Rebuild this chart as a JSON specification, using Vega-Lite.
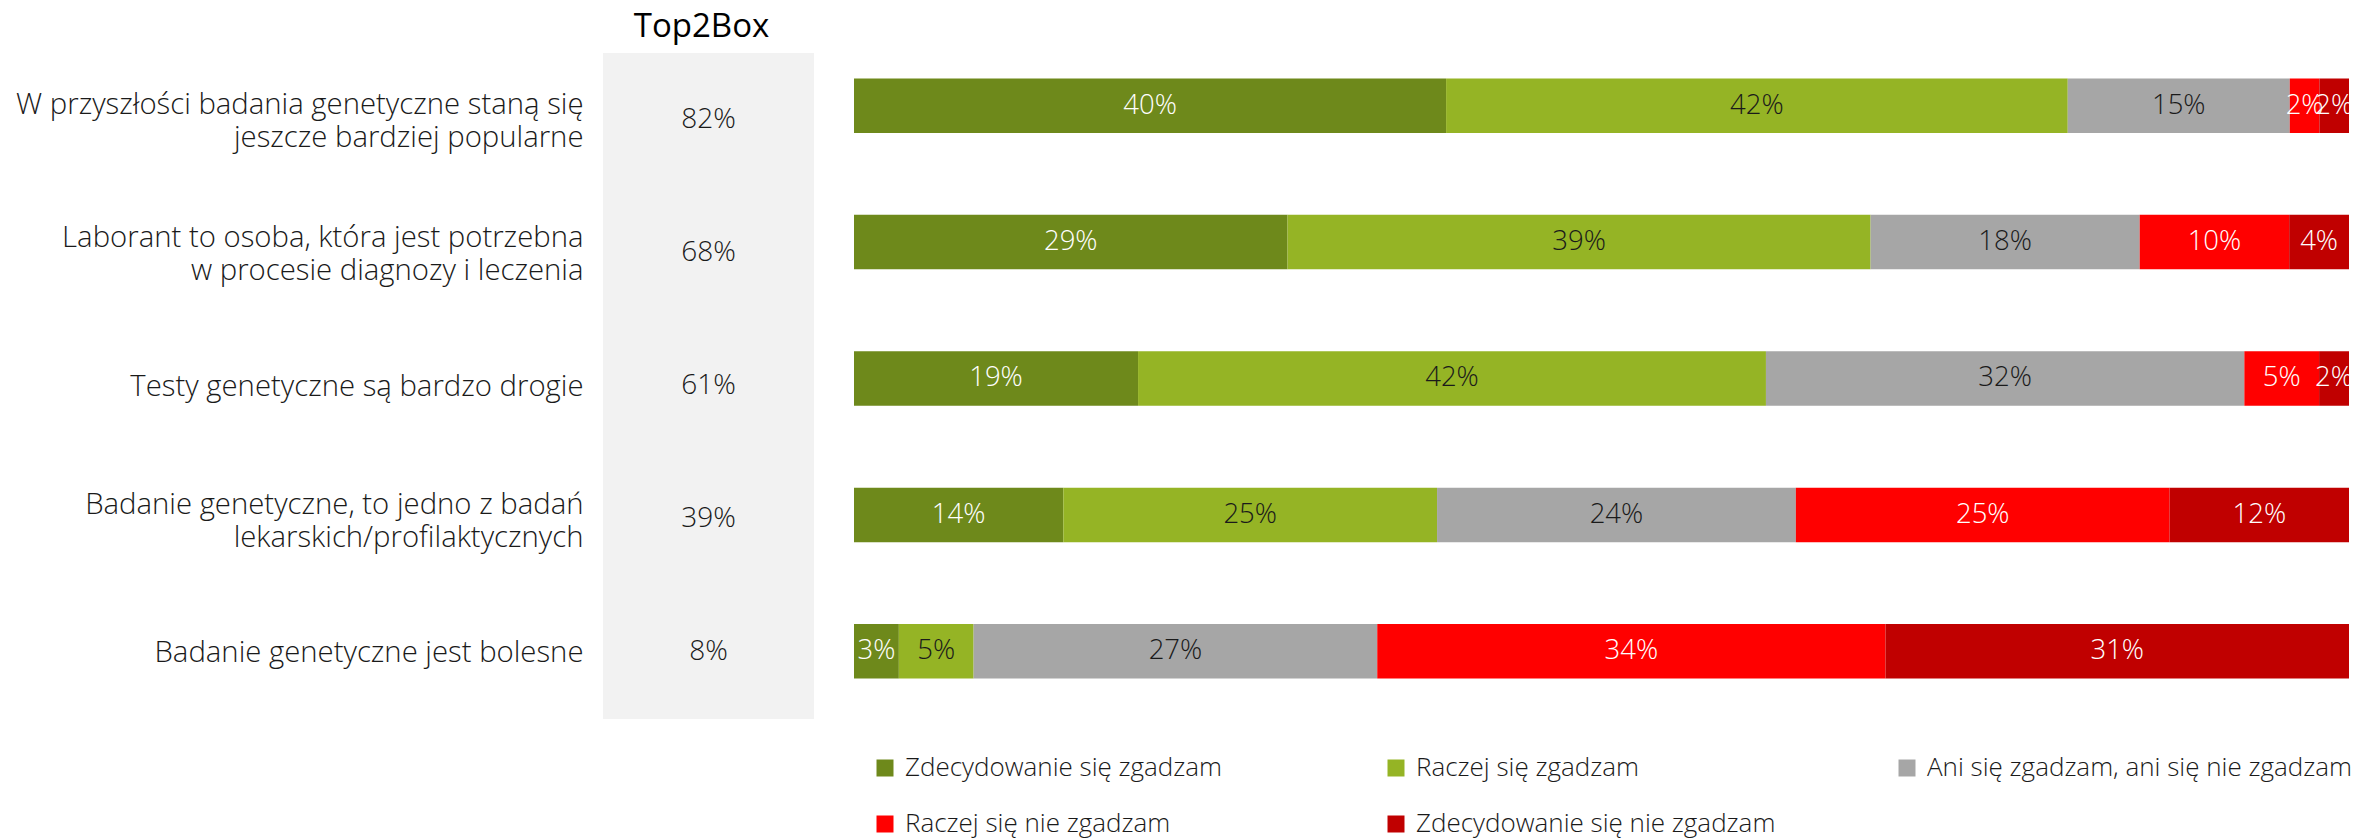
{
  "$schema": "https://vega.github.io/schema/vega-lite/v6.json",
  "autosize": "none",
  "padding": {"left": 603, "top": 53, "right": 1768, "bottom": 785},
  "config": {
    "view": {"stroke": null},
    "font": "Open Sans",
    "text": {"font": "Open Sans"}
  },
  "datasets": {
    "t2b": [
      {"s": "W przyszłości badania genetyczne staną się\njeszcze bardziej popularne", "t": 0.82},
      {"s": "Laborant to osoba, która jest potrzebna\nw procesie diagnozy i leczenia", "t": 0.68},
      {"s": "Testy genetyczne są bardzo drogie", "t": 0.61},
      {"s": "Badanie genetyczne, to jedno z badań\nlekarskich/profilaktycznych", "t": 0.39},
      {"s": "Badanie genetyczne jest bolesne", "t": 0.08}
    ],
    "resp": [
      {"s": "W przyszłości badania genetyczne staną się\njeszcze bardziej popularne", "cat": "Zdecydowanie się zgadzam", "k": 1, "v": 0.40},
      {"s": "W przyszłości badania genetyczne staną się\njeszcze bardziej popularne", "cat": "Raczej się zgadzam", "k": 2, "v": 0.42},
      {"s": "W przyszłości badania genetyczne staną się\njeszcze bardziej popularne", "cat": "Ani się zgadzam, ani się nie zgadzam", "k": 3, "v": 0.15},
      {"s": "W przyszłości badania genetyczne staną się\njeszcze bardziej popularne", "cat": "Raczej się nie zgadzam", "k": 4, "v": 0.02},
      {"s": "W przyszłości badania genetyczne staną się\njeszcze bardziej popularne", "cat": "Zdecydowanie się nie zgadzam", "k": 5, "v": 0.02},
      {"s": "Laborant to osoba, która jest potrzebna\nw procesie diagnozy i leczenia", "cat": "Zdecydowanie się zgadzam", "k": 1, "v": 0.29},
      {"s": "Laborant to osoba, która jest potrzebna\nw procesie diagnozy i leczenia", "cat": "Raczej się zgadzam", "k": 2, "v": 0.39},
      {"s": "Laborant to osoba, która jest potrzebna\nw procesie diagnozy i leczenia", "cat": "Ani się zgadzam, ani się nie zgadzam", "k": 3, "v": 0.18},
      {"s": "Laborant to osoba, która jest potrzebna\nw procesie diagnozy i leczenia", "cat": "Raczej się nie zgadzam", "k": 4, "v": 0.10},
      {"s": "Laborant to osoba, która jest potrzebna\nw procesie diagnozy i leczenia", "cat": "Zdecydowanie się nie zgadzam", "k": 5, "v": 0.04},
      {"s": "Testy genetyczne są bardzo drogie", "cat": "Zdecydowanie się zgadzam", "k": 1, "v": 0.19},
      {"s": "Testy genetyczne są bardzo drogie", "cat": "Raczej się zgadzam", "k": 2, "v": 0.42},
      {"s": "Testy genetyczne są bardzo drogie", "cat": "Ani się zgadzam, ani się nie zgadzam", "k": 3, "v": 0.32},
      {"s": "Testy genetyczne są bardzo drogie", "cat": "Raczej się nie zgadzam", "k": 4, "v": 0.05},
      {"s": "Testy genetyczne są bardzo drogie", "cat": "Zdecydowanie się nie zgadzam", "k": 5, "v": 0.02},
      {"s": "Badanie genetyczne, to jedno z badań\nlekarskich/profilaktycznych", "cat": "Zdecydowanie się zgadzam", "k": 1, "v": 0.14},
      {"s": "Badanie genetyczne, to jedno z badań\nlekarskich/profilaktycznych", "cat": "Raczej się zgadzam", "k": 2, "v": 0.25},
      {"s": "Badanie genetyczne, to jedno z badań\nlekarskich/profilaktycznych", "cat": "Ani się zgadzam, ani się nie zgadzam", "k": 3, "v": 0.24},
      {"s": "Badanie genetyczne, to jedno z badań\nlekarskich/profilaktycznych", "cat": "Raczej się nie zgadzam", "k": 4, "v": 0.25},
      {"s": "Badanie genetyczne, to jedno z badań\nlekarskich/profilaktycznych", "cat": "Zdecydowanie się nie zgadzam", "k": 5, "v": 0.12},
      {"s": "Badanie genetyczne jest bolesne", "cat": "Zdecydowanie się zgadzam", "k": 1, "v": 0.03},
      {"s": "Badanie genetyczne jest bolesne", "cat": "Raczej się zgadzam", "k": 2, "v": 0.05},
      {"s": "Badanie genetyczne jest bolesne", "cat": "Ani się zgadzam, ani się nie zgadzam", "k": 3, "v": 0.27},
      {"s": "Badanie genetyczne jest bolesne", "cat": "Raczej się nie zgadzam", "k": 4, "v": 0.34},
      {"s": "Badanie genetyczne jest bolesne", "cat": "Zdecydowanie się nie zgadzam", "k": 5, "v": 0.31}
    ]
  },
  "hconcat": [
    {
      "width": 211,
      "height": 666,
      "view": {"fill": "#F2F2F2", "stroke": null},
      "title": {"text": "Top2Box", "fontSize": 33, "font": "Open Sans", "fontWeight": 400, "color": "#000000", "anchor": "middle", "offset": 9, "dx": -7},
      "data": {"name": "t2b"},
      "mark": {"type": "text", "fontSize": 28, "fontWeight": 300, "color": "#1a1a1a", "font": "Open Sans"},
      "encoding": {
        "y": {
          "field": "s", "type": "nominal", "sort": null,
          "scale": {"paddingInner": 0, "paddingOuter": 0},
          "axis": {
            "title": null, "domain": false, "ticks": false, "labelPadding": 20,
            "labelFont": "Open Sans", "labelFontSize": 29.3, "labelFontWeight": 300,
            "labelColor": "#1a1a1a", "labelLimit": 0, "labelLineHeight": 33,
            "labelOffset": {"condition": {"test": "indexof(datum.value, '\\n') >= 0", "value": -15}, "value": 0},
            "labelExpr": "split(datum.value, '\\n')"
          }
        },
        "text": {"field": "t", "type": "quantitative", "format": ".0%"}
      }
    },
    {
      "width": 1495,
      "height": 666,
      "data": {"name": "resp"},
      "encoding": {
        "y": {
          "field": "s", "type": "nominal", "sort": null,
          "scale": {"paddingInner": 0.6004, "paddingOuter": 0.2416, "align": 0.386},
          "axis": null
        },
        "x": {"field": "v", "type": "quantitative", "stack": "normalize", "axis": null},
        "order": {"field": "k", "type": "quantitative"}
      },
      "layer": [
        {
          "mark": {"type": "bar"},
          "encoding": {
            "color": {
              "field": "cat", "type": "nominal",
              "scale": {
                "domain": ["Zdecydowanie się zgadzam", "Raczej się zgadzam", "Ani się zgadzam, ani się nie zgadzam", "Raczej się nie zgadzam", "Zdecydowanie się nie zgadzam"],
                "range": ["#6E891B", "#95B425", "#A6A6A6", "#FF0000", "#C00000"]
              },
              "legend": {
                "title": null, "orient": "none", "legendX": 269, "legendY": 702,
                "direction": "horizontal", "columns": 3, "gridAlign": "all",
                "columnPadding": 53, "rowPadding": 30,
                "symbolType": "square", "symbolSize": 289, "symbolStrokeWidth": 0,
                "labelFont": "Open Sans", "labelFontSize": 26, "labelFontWeight": 300,
                "labelColor": "#1a1a1a", "labelOffset": 7, "labelLimit": 0
              }
            }
          }
        },
        {
          "mark": {"type": "text", "fontSize": 27.5, "fontWeight": 300, "font": "Open Sans"},
          "encoding": {
            "x": {"field": "v", "type": "quantitative", "stack": "normalize", "bandPosition": 0.5, "axis": null},
            "text": {"field": "v", "type": "quantitative", "format": ".0%"},
            "fill": {
              "field": "cat", "type": "nominal",
              "scale": {
                "domain": ["Zdecydowanie się zgadzam", "Raczej się zgadzam", "Ani się zgadzam, ani się nie zgadzam", "Raczej się nie zgadzam", "Zdecydowanie się nie zgadzam"],
                "range": ["#ffffff", "#1a1a1a", "#1a1a1a", "#ffffff", "#ffffff"]
              },
              "legend": null
            }
          }
        }
      ]
    }
  ],
  "spacing": 40
}
